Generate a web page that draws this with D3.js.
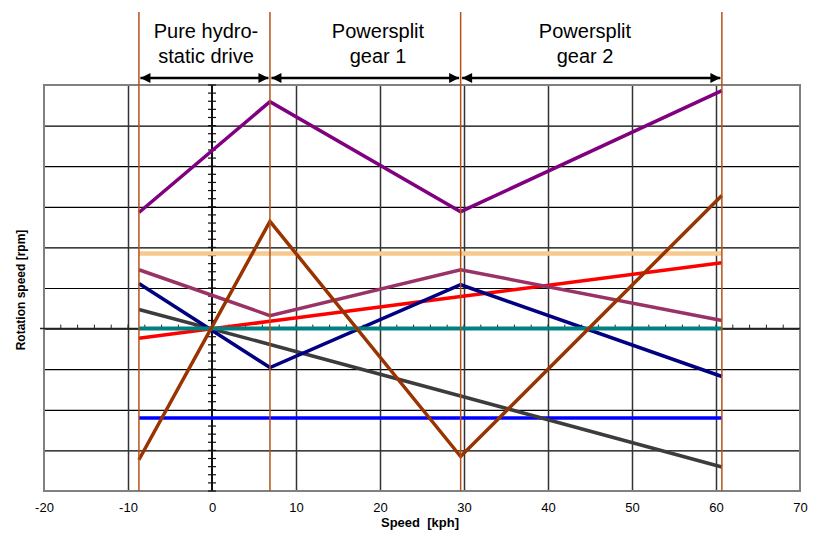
<!DOCTYPE html>
<html>
<head>
<meta charset="utf-8">
<script src="https://cdn.jsdelivr.net/npm/d3@7"></script>
<style>
  body { margin: 0; background: #fff; }
  svg { display: block; font-family: "Liberation Sans", Arial, sans-serif; }
</style>
</head>
<body>
<svg id="chart" width="816" height="536"></svg>
<script>
// speeds (kph) where the drive changes mode
var speedBreaks = [-8.7, 6.9, 29.6, 60.7];

// rotation speed of each shaft at those breaks
var purpleVals = [2.86, 5.59, 2.88, 5.86];
var brownVals  = [-3.23, 2.64, -3.15, 3.28];
var tanVals    = [1.85, 1.85, 1.85, 1.85];
var redVals    = [-0.24, 0.18, 0.79, 1.62];
var mauveVals  = [1.45, 0.32, 1.45, 0.2];
var navyVals   = [1.11, -0.96, 1.08, -1.18];
var tealVals   = [0, 0, 0, 0];
var blueVals   = [-2.2, -2.2, -2.2, -2.2];
var grayVals   = [0.47, -0.39, -1.66, -3.41];

var xTicks = [-20, -10, 0, 10, 20, 30, 40, 50, 60, 70];
var phaseLabels = [["Pure hydro-", "static drive"], ["Powersplit", "gear 1"], ["Powersplit", "gear 2"]];
var phaseCenters = [206, 378, 585];

var svg = d3.select("#chart");
var pL = 44, pR = 800, pT = 85, pB = 491;

var x = d3.scaleLinear().domain([-20, 70]).range([pL, pR]);
var y = d3.scaleLinear().domain([-4, 6]).range([pB, pT]);

// horizontal grid
svg.append("g")
    .attr("transform", "translate(" + pL + ",0)")
    .call(d3.axisLeft(y).tickValues(d3.range(-3, 6)).tickSize(-(pR - pL)).tickFormat(""))
    .call(function(g) { g.select(".domain").remove(); })
    .selectAll("line").attr("stroke", "#000").attr("stroke-width", 1.2);

// vertical grid
svg.append("g")
    .attr("transform", "translate(0," + pB + ")")
    .call(d3.axisBottom(x).tickValues([-10, 10, 20, 30, 40, 50, 60]).tickSize(-(pB - pT)).tickFormat(""))
    .call(function(g) { g.select(".domain").remove(); })
    .selectAll("line").attr("stroke", "#333").attr("stroke-width", 1.5);

// frame
svg.append("rect")
    .attr("x", pL).attr("y", pT)
    .attr("width", pR - pL).attr("height", pB - pT)
    .attr("fill", "none").attr("stroke", "#808080").attr("stroke-width", 2);

// x axis at zero with minor ticks
svg.append("line")
    .attr("x1", pL - 4).attr("x2", pR).attr("y1", y(0)).attr("y2", y(0))
    .attr("stroke", "#222").attr("stroke-width", 1.5);
svg.append("g").selectAll("line")
    .data(d3.range(-18, 70, 2))
    .join("line")
    .attr("x1", function(d) { return x(d); }).attr("x2", function(d) { return x(d); })
    .attr("y1", y(0) - 4).attr("y2", y(0))
    .attr("stroke", "#222").attr("stroke-width", 1);

// y axis at zero with minor ticks
svg.append("line")
    .attr("x1", x(0)).attr("x2", x(0)).attr("y1", pT).attr("y2", pB)
    .attr("stroke", "#111").attr("stroke-width", 2);
svg.append("g").selectAll("line")
    .data(d3.range(-20, 31).map(function(i) { return i / 5; }))
    .join("line")
    .attr("x1", x(0) - 4).attr("x2", x(0) + 4)
    .attr("y1", function(d) { return y(d); }).attr("y2", function(d) { return y(d); })
    .attr("stroke", "#111").attr("stroke-width", 1.2);

// tick labels
svg.append("g")
    .attr("transform", "translate(0," + (pB + 6) + ")")
    .call(d3.axisBottom(x).tickValues(xTicks).tickSize(0).tickPadding(6).tickFormat(String))
    .call(function(g) { g.select(".domain").remove(); })
    .selectAll("text")
    .attr("font-size", 13).attr("font-family", "Liberation Sans, Arial, sans-serif").attr("fill", "#000");

svg.append("text")
    .attr("x", 420).attr("y", 527)
    .attr("text-anchor", "middle").attr("font-size", 13).attr("font-weight", "bold")
    .attr("xml:space", "preserve")
    .text("Speed  [kph]");

svg.append("text")
    .attr("transform", "translate(25,290) rotate(-90)")
    .attr("text-anchor", "middle").attr("font-size", 12).attr("font-weight", "bold")
    .text("Rotation speed [rpm]");

// series
var seriesList = [
  { vals: tanVals, color: "#f7c98d", w: 4.5 },
  { vals: blueVals, color: "#0000ff", w: 3.5 },
  { vals: grayVals, color: "#3c3c3c", w: 3.5 },
  { vals: redVals, color: "#ff0000", w: 3.5 },
  { vals: mauveVals, color: "#993366", w: 3.5 },
  { vals: navyVals, color: "#000080", w: 3.5 },
  { vals: tealVals, color: "#008080", w: 4 },
  { vals: purpleVals, color: "#800080", w: 3.5 },
  { vals: brownVals, color: "#993300", w: 3.5 }
];

var line = d3.line()
    .x(function(d, i) { return x(speedBreaks[i]); })
    .y(function(d) { return y(d); });

svg.append("g").selectAll("path")
    .data(seriesList)
    .join("path")
    .attr("d", function(s) { return line(s.vals); })
    .attr("fill", "none")
    .attr("stroke", function(s) { return s.color; })
    .attr("stroke-width", function(s) { return s.w; })
    .attr("stroke-linejoin", "miter");

// mode boundaries
svg.append("g").selectAll("line")
    .data(speedBreaks)
    .join("line")
    .attr("x1", function(d) { return x(d); }).attr("x2", function(d) { return x(d); })
    .attr("y1", 12).attr("y2", pB)
    .attr("stroke", "#b4521a").attr("stroke-width", 1.5);

// arrows
var defs = svg.append("defs");
defs.append("marker").attr("id", "ah").attr("viewBox", "0 0 10 10")
    .attr("refX", 10).attr("refY", 5).attr("markerWidth", 5).attr("markerHeight", 4)
    .attr("markerUnits", "strokeWidth").attr("orient", "auto-start-reverse")
    .append("path").attr("d", "M0,0 L10,5 L0,10 Z").attr("fill", "#000");

svg.append("g").selectAll("line")
    .data(d3.range(3))
    .join("line")
    .attr("x1", function(i) { return x(speedBreaks[i]) + 1.5; })
    .attr("x2", function(i) { return x(speedBreaks[i + 1]) - 1.5; })
    .attr("y1", 78).attr("y2", 78)
    .attr("stroke", "#000").attr("stroke-width", 2.5)
    .attr("marker-start", "url(#ah)").attr("marker-end", "url(#ah)");

// phase titles
phaseLabels.forEach(function(lines, i) {
  lines.forEach(function(t, j) {
    svg.append("text")
        .attr("x", phaseCenters[i]).attr("y", 38 + j * 25)
        .attr("text-anchor", "middle").attr("font-size", 20)
        .text(t);
  });
});
</script>
</body>
</html>
